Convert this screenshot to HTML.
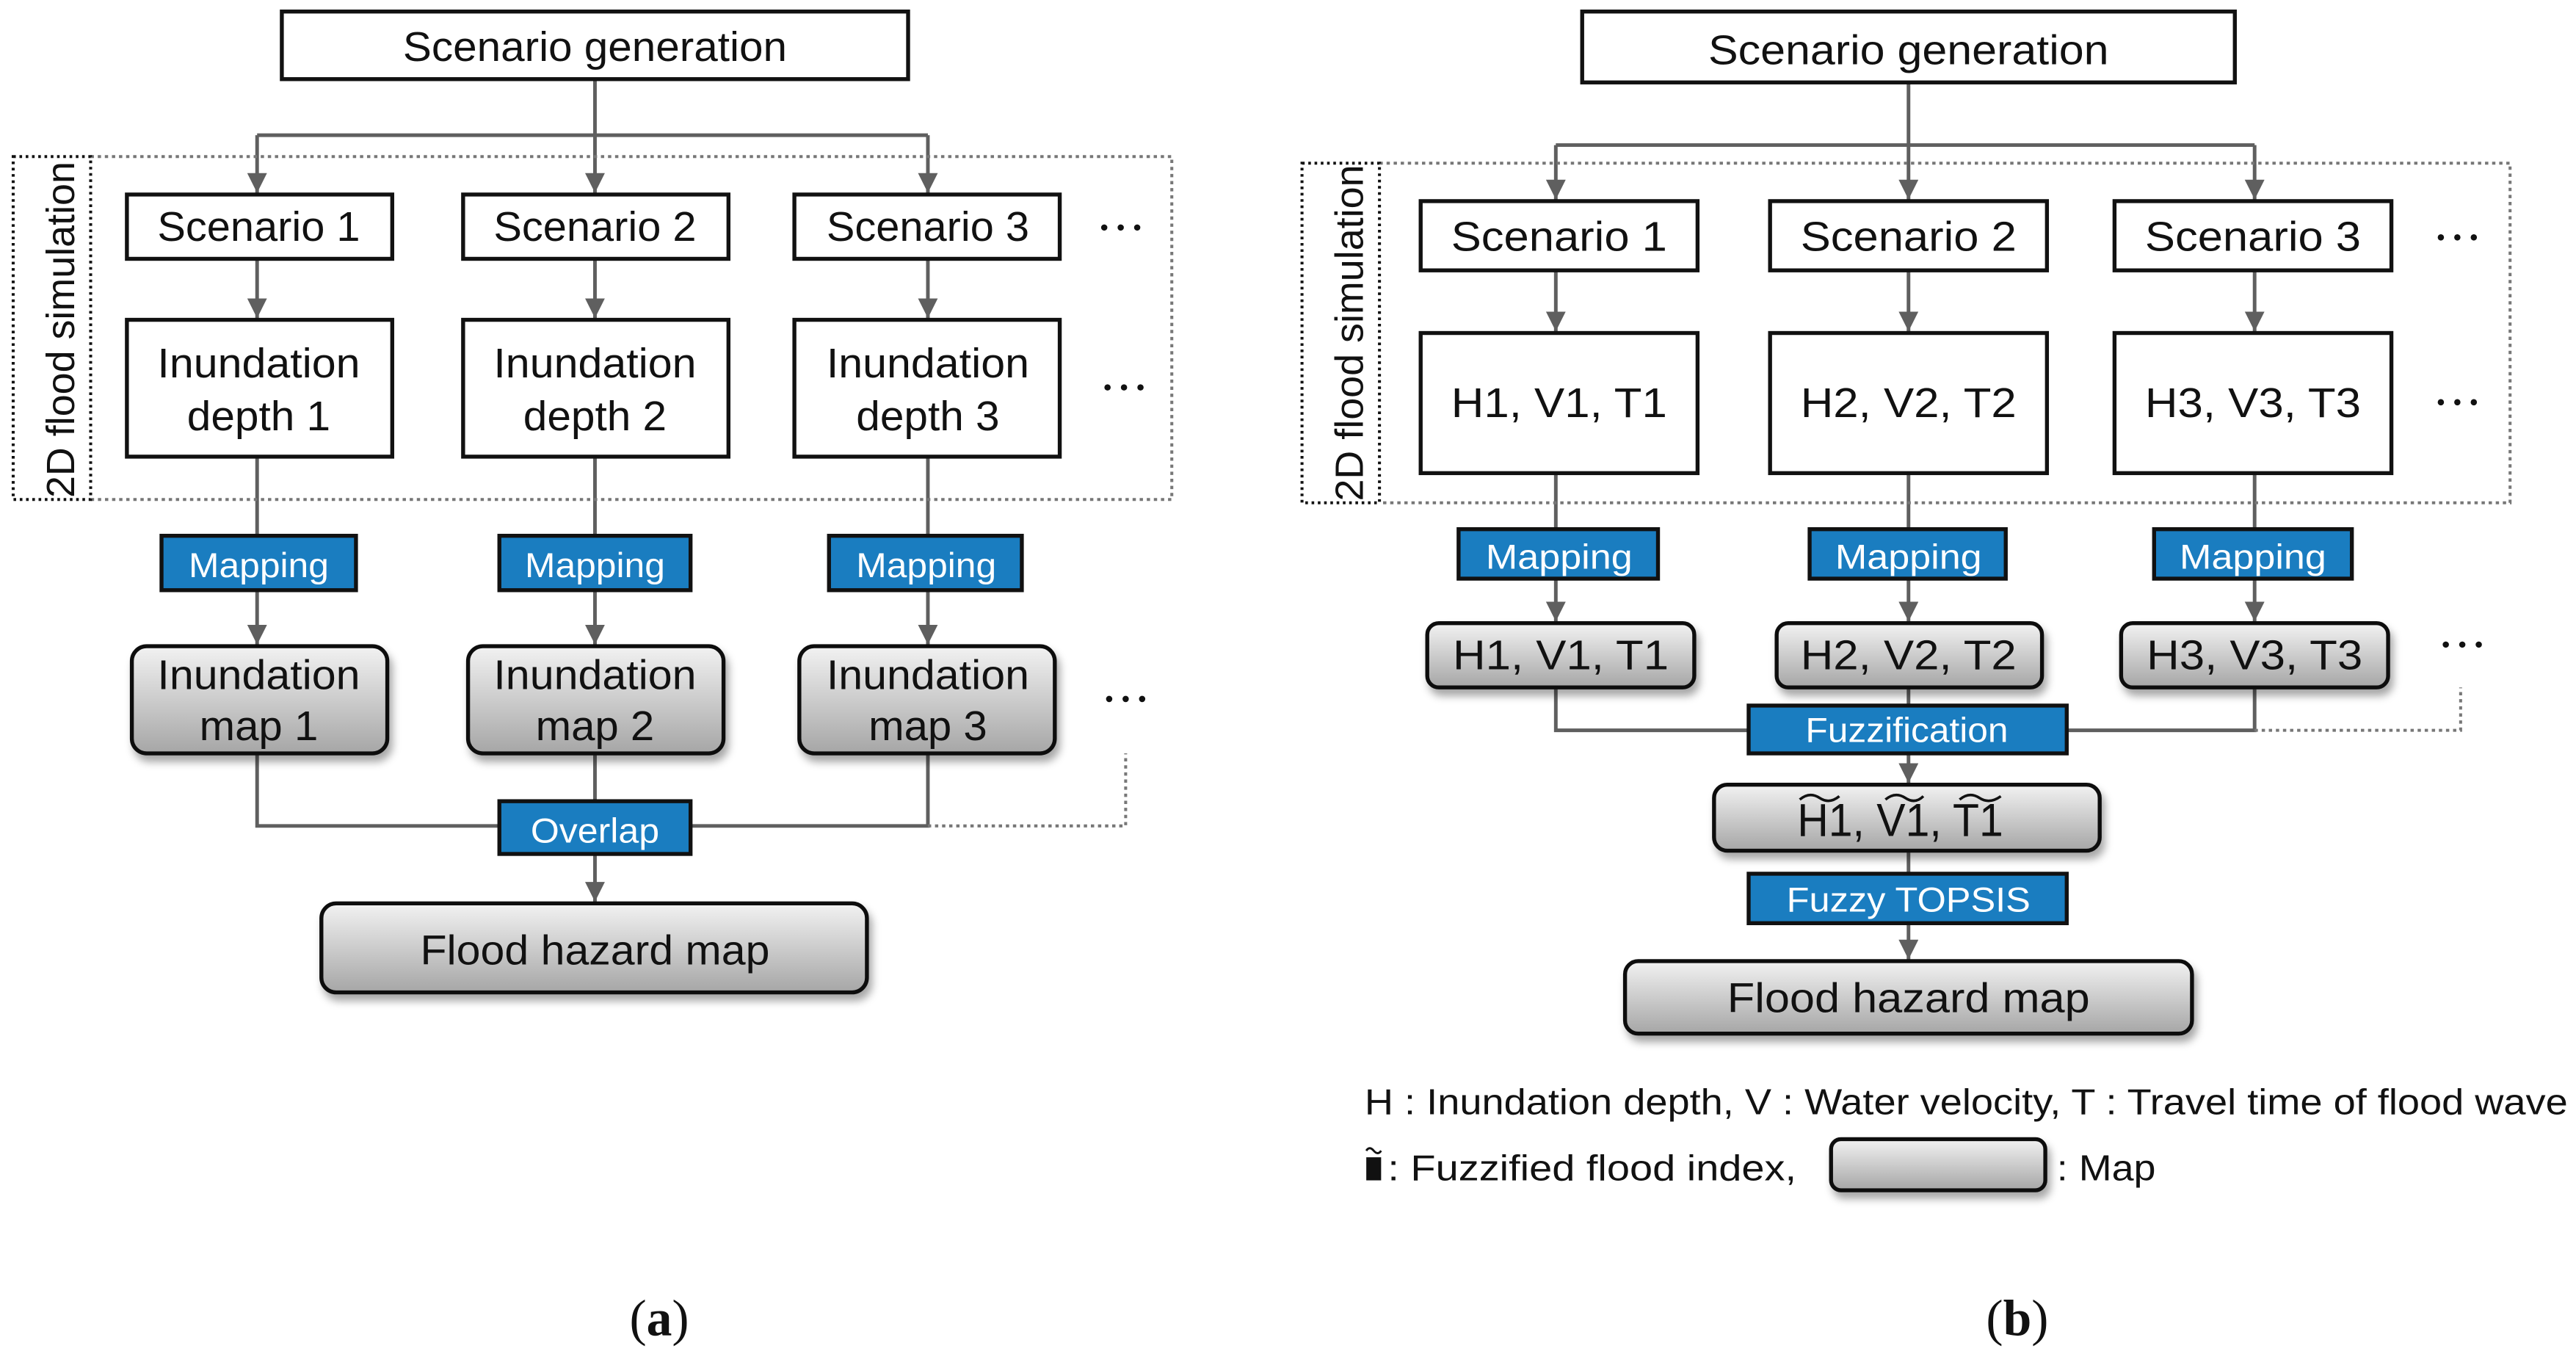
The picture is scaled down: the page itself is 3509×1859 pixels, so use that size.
<!DOCTYPE html>
<html><head><meta charset="utf-8"><style>
html,body{margin:0;padding:0;background:#fff;}
svg{display:block;}
text{font-family:"Liberation Sans",Arial,sans-serif;fill:#111;}
.w{fill:#fff;}
</style></head><body>
<svg width="3509" height="1859" viewBox="0 0 1563 828" preserveAspectRatio="none" xmlns="http://www.w3.org/2000/svg">
<defs>
<linearGradient id="g" x1="0" y1="0" x2="0" y2="1">
<stop offset="0" stop-color="#f2f2f2"/><stop offset="1" stop-color="#a6a6a6"/>
</linearGradient>
<filter id="sh" x="-10%" y="-10%" width="130%" height="160%">
<feDropShadow dx="2" dy="4" stdDeviation="2.5" flood-color="#000" flood-opacity="0.35"/>
</filter>
<marker id="ar" viewBox="0 0 10 10" refX="10" refY="5" markerWidth="12" markerHeight="12" markerUnits="userSpaceOnUse" orient="auto">
<path d="M0,0 L10,5 L0,10 z" fill="#5f5f5f"/>
</marker>
</defs>
<g fill="none" stroke="#5f5f5f" stroke-width="2.2">
<path d="M361,48 V117" marker-end="url(#ar)"/>
<path d="M156,82 H563"/>
<path d="M156,82 V117" marker-end="url(#ar)"/>
<path d="M563,82 V117" marker-end="url(#ar)"/>
<path d="M156,157 V193" marker-end="url(#ar)"/>
<path d="M361,157 V193" marker-end="url(#ar)"/>
<path d="M563,157 V193" marker-end="url(#ar)"/>
<path d="M156,277 V391" marker-end="url(#ar)"/>
<path d="M361,277 V391" marker-end="url(#ar)"/>
<path d="M563,277 V391" marker-end="url(#ar)"/>
<path d="M156,457 V501 H563 V457"/>
<path d="M361,457 V486"/>
<path d="M361,518 V547" marker-end="url(#ar)"/>
<path d="M1158,50 V121" marker-end="url(#ar)"/>
<path d="M944,88 H1368"/>
<path d="M944,88 V121" marker-end="url(#ar)"/>
<path d="M1368,88 V121" marker-end="url(#ar)"/>
<path d="M944,164 V201" marker-end="url(#ar)"/>
<path d="M1158,164 V201" marker-end="url(#ar)"/>
<path d="M1368,164 V201" marker-end="url(#ar)"/>
<path d="M944,287 V377" marker-end="url(#ar)"/>
<path d="M1158,287 V377" marker-end="url(#ar)"/>
<path d="M1368,287 V377" marker-end="url(#ar)"/>
<path d="M944,417 V443 H1368 V417"/>
<path d="M1158,417 V428"/>
<path d="M1158,457 V475" marker-end="url(#ar)"/>
<path d="M1158,516 V530"/>
<path d="M1158,560 V582" marker-end="url(#ar)"/>
</g>
<g fill="none" stroke="#777" stroke-width="1.8" stroke-dasharray="2 2.3">
<path d="M55,95 H711 V303 H55"/>
<path d="M563,501 H683 V457"/>
<path d="M837,99 H1523 V305 H837"/>
<path d="M1368,443 H1493 V417"/>
</g>
<g fill="none" stroke="#111" stroke-width="1.8" stroke-dasharray="1.6 2.2">
<rect x="8" y="95" width="47" height="208"/>
<rect x="790" y="99" width="47" height="206"/>
</g>
<text transform="translate(45,200) rotate(-90)" font-size="24" text-anchor="middle" textLength="204" lengthAdjust="spacingAndGlyphs">2D flood simulation</text>
<text transform="translate(827,202) rotate(-90)" font-size="24" text-anchor="middle" textLength="204" lengthAdjust="spacingAndGlyphs">2D flood simulation</text>

<g fill="#fff" stroke="#111" stroke-width="2.4">
<rect x="171" y="7" width="380" height="41"/>
<rect x="77" y="118" width="161" height="39"/><rect x="281" y="118" width="161" height="39"/><rect x="482" y="118" width="161" height="39"/>
<rect x="77" y="194" width="161" height="83"/><rect x="281" y="194" width="161" height="83"/><rect x="482" y="194" width="161" height="83"/>
<rect x="960" y="7" width="396" height="43"/>
<rect x="862" y="122" width="168" height="42"/><rect x="1074" y="122" width="168" height="42"/><rect x="1283" y="122" width="168" height="42"/>
<rect x="862" y="202" width="168" height="85"/><rect x="1074" y="202" width="168" height="85"/><rect x="1283" y="202" width="168" height="85"/>
</g>
<g fill="#1a7dc0" stroke="#111" stroke-width="2.4">
<rect x="98" y="325" width="118" height="33"/><rect x="303" y="325" width="116" height="33"/><rect x="503" y="325" width="117" height="33"/>
<rect x="303" y="486" width="116" height="32"/>
<rect x="885" y="321" width="121" height="30"/><rect x="1098" y="321" width="119" height="30"/><rect x="1307" y="321" width="120" height="30"/>
<rect x="1061" y="428" width="193" height="29"/>
<rect x="1061" y="530" width="193" height="30"/>
</g>
<g fill="url(#g)" stroke="#111" stroke-width="2.4" filter="url(#sh)">
<rect x="80" y="392" width="155" height="65" rx="9"/><rect x="284" y="392" width="155" height="65" rx="9"/><rect x="485" y="392" width="155" height="65" rx="9"/>
<rect x="195" y="548" width="331" height="54" rx="9"/>
<rect x="866" y="378" width="162" height="39" rx="7"/><rect x="1078" y="378" width="161" height="39" rx="7"/><rect x="1287" y="378" width="162" height="39" rx="7"/>
<rect x="1040" y="476" width="234" height="40" rx="8"/>
<rect x="986" y="583" width="344" height="44" rx="8"/>
<rect x="1111" y="691" width="130" height="31" rx="6"/>
</g>

<g font-size="25" text-anchor="middle">
<text x="361" y="37" textLength="233" lengthAdjust="spacingAndGlyphs">Scenario generation</text>
<text x="157" y="146" textLength="123" lengthAdjust="spacingAndGlyphs">Scenario 1</text>
<text x="361" y="146" textLength="123" lengthAdjust="spacingAndGlyphs">Scenario 2</text>
<text x="563" y="146" textLength="123" lengthAdjust="spacingAndGlyphs">Scenario 3</text>
<text x="157" y="229" textLength="123" lengthAdjust="spacingAndGlyphs">Inundation</text>
<text x="157" y="261" textLength="87" lengthAdjust="spacingAndGlyphs">depth 1</text>
<text x="361" y="229" textLength="123" lengthAdjust="spacingAndGlyphs">Inundation</text>
<text x="361" y="261" textLength="87" lengthAdjust="spacingAndGlyphs">depth 2</text>
<text x="563" y="229" textLength="123" lengthAdjust="spacingAndGlyphs">Inundation</text>
<text x="563" y="261" textLength="87" lengthAdjust="spacingAndGlyphs">depth 3</text>
<text x="157" y="418" textLength="123" lengthAdjust="spacingAndGlyphs">Inundation</text>
<text x="157" y="449" textLength="72" lengthAdjust="spacingAndGlyphs">map 1</text>
<text x="361" y="418" textLength="123" lengthAdjust="spacingAndGlyphs">Inundation</text>
<text x="361" y="449" textLength="72" lengthAdjust="spacingAndGlyphs">map 2</text>
<text x="563" y="418" textLength="123" lengthAdjust="spacingAndGlyphs">Inundation</text>
<text x="563" y="449" textLength="72" lengthAdjust="spacingAndGlyphs">map 3</text>
<text x="361" y="585" textLength="212" lengthAdjust="spacingAndGlyphs">Flood hazard map</text>

<text x="1158" y="39" textLength="243" lengthAdjust="spacingAndGlyphs">Scenario generation</text>
<text x="946" y="152" textLength="131" lengthAdjust="spacingAndGlyphs">Scenario 1</text>
<text x="1158" y="152" textLength="131" lengthAdjust="spacingAndGlyphs">Scenario 2</text>
<text x="1367" y="152" textLength="131" lengthAdjust="spacingAndGlyphs">Scenario 3</text>
<text x="946" y="253" textLength="131" lengthAdjust="spacingAndGlyphs">H1, V1, T1</text>
<text x="1158" y="253" textLength="131" lengthAdjust="spacingAndGlyphs">H2, V2, T2</text>
<text x="1367" y="253" textLength="131" lengthAdjust="spacingAndGlyphs">H3, V3, T3</text>
<text x="947" y="406" textLength="131" lengthAdjust="spacingAndGlyphs">H1, V1, T1</text>
<text x="1158" y="406" textLength="131" lengthAdjust="spacingAndGlyphs">H2, V2, T2</text>
<text x="1368" y="406" textLength="131" lengthAdjust="spacingAndGlyphs">H3, V3, T3</text>
<text x="1153" y="507" font-size="28" textLength="125" lengthAdjust="spacingAndGlyphs">H1, V1, T1</text>
<text x="1158" y="614" textLength="220" lengthAdjust="spacingAndGlyphs">Flood hazard map</text>
</g>
<g fill="none" stroke="#111" stroke-width="1.6">
<path d="M1092,485 q6,-5 12,-1 t12,-1"/>
<path d="M1144,485 q6,-5 12,-1 t11,-1"/>
<path d="M1189,485 q6,-5 12,-1 t13,-1"/>
</g>
<g font-size="21" text-anchor="middle">
<text class="w" x="157" y="350" textLength="85" lengthAdjust="spacingAndGlyphs">Mapping</text>
<text class="w" x="361" y="350" textLength="85" lengthAdjust="spacingAndGlyphs">Mapping</text>
<text class="w" x="562" y="350" textLength="85" lengthAdjust="spacingAndGlyphs">Mapping</text>
<text class="w" x="361" y="511" textLength="78" lengthAdjust="spacingAndGlyphs">Overlap</text>
<text class="w" x="946" y="345" textLength="89" lengthAdjust="spacingAndGlyphs">Mapping</text>
<text class="w" x="1158" y="345" textLength="89" lengthAdjust="spacingAndGlyphs">Mapping</text>
<text class="w" x="1367" y="345" textLength="89" lengthAdjust="spacingAndGlyphs">Mapping</text>
<text class="w" x="1157" y="450" textLength="123" lengthAdjust="spacingAndGlyphs">Fuzzification</text>
<text class="w" x="1158" y="553" textLength="148" lengthAdjust="spacingAndGlyphs">Fuzzy TOPSIS</text>
</g>
<g fill="#111">
<circle cx="670" cy="138" r="1.9"/><circle cx="680" cy="138" r="1.9"/><circle cx="690" cy="138" r="1.9"/>
<circle cx="672" cy="235" r="1.9"/><circle cx="682" cy="235" r="1.9"/><circle cx="692" cy="235" r="1.9"/>
<circle cx="673" cy="424" r="1.9"/><circle cx="683" cy="424" r="1.9"/><circle cx="693" cy="424" r="1.9"/>
<circle cx="1481" cy="144" r="1.9"/><circle cx="1491" cy="144" r="1.9"/><circle cx="1501" cy="144" r="1.9"/>
<circle cx="1481" cy="244" r="1.9"/><circle cx="1491" cy="244" r="1.9"/><circle cx="1501" cy="244" r="1.9"/>
<circle cx="1484" cy="391" r="1.9"/><circle cx="1494" cy="391" r="1.9"/><circle cx="1504" cy="391" r="1.9"/>
</g>
<g font-size="22">
<text x="828" y="676" textLength="730" lengthAdjust="spacingAndGlyphs">H : Inundation depth, V : Water velocity, T : Travel time of flood wave</text>
<rect x="829" y="702" width="9" height="14" fill="#111"/>
<path d="M829,698 q2,-3 4.5,0 t4.5,0" fill="none" stroke="#111" stroke-width="1.3"/>
<text x="842" y="716" textLength="248" lengthAdjust="spacingAndGlyphs">: Fuzzified flood index,</text>
<text x="1248" y="716" textLength="60" lengthAdjust="spacingAndGlyphs">: Map</text>
</g>
<g font-size="31" text-anchor="middle">
<text x="400" y="810" style="font-family:'Liberation Serif',serif">(<tspan font-weight="bold">a</tspan>)</text>
<text x="1224" y="810" style="font-family:'Liberation Serif',serif">(<tspan font-weight="bold">b</tspan>)</text>
</g>
</svg>
</body></html>
